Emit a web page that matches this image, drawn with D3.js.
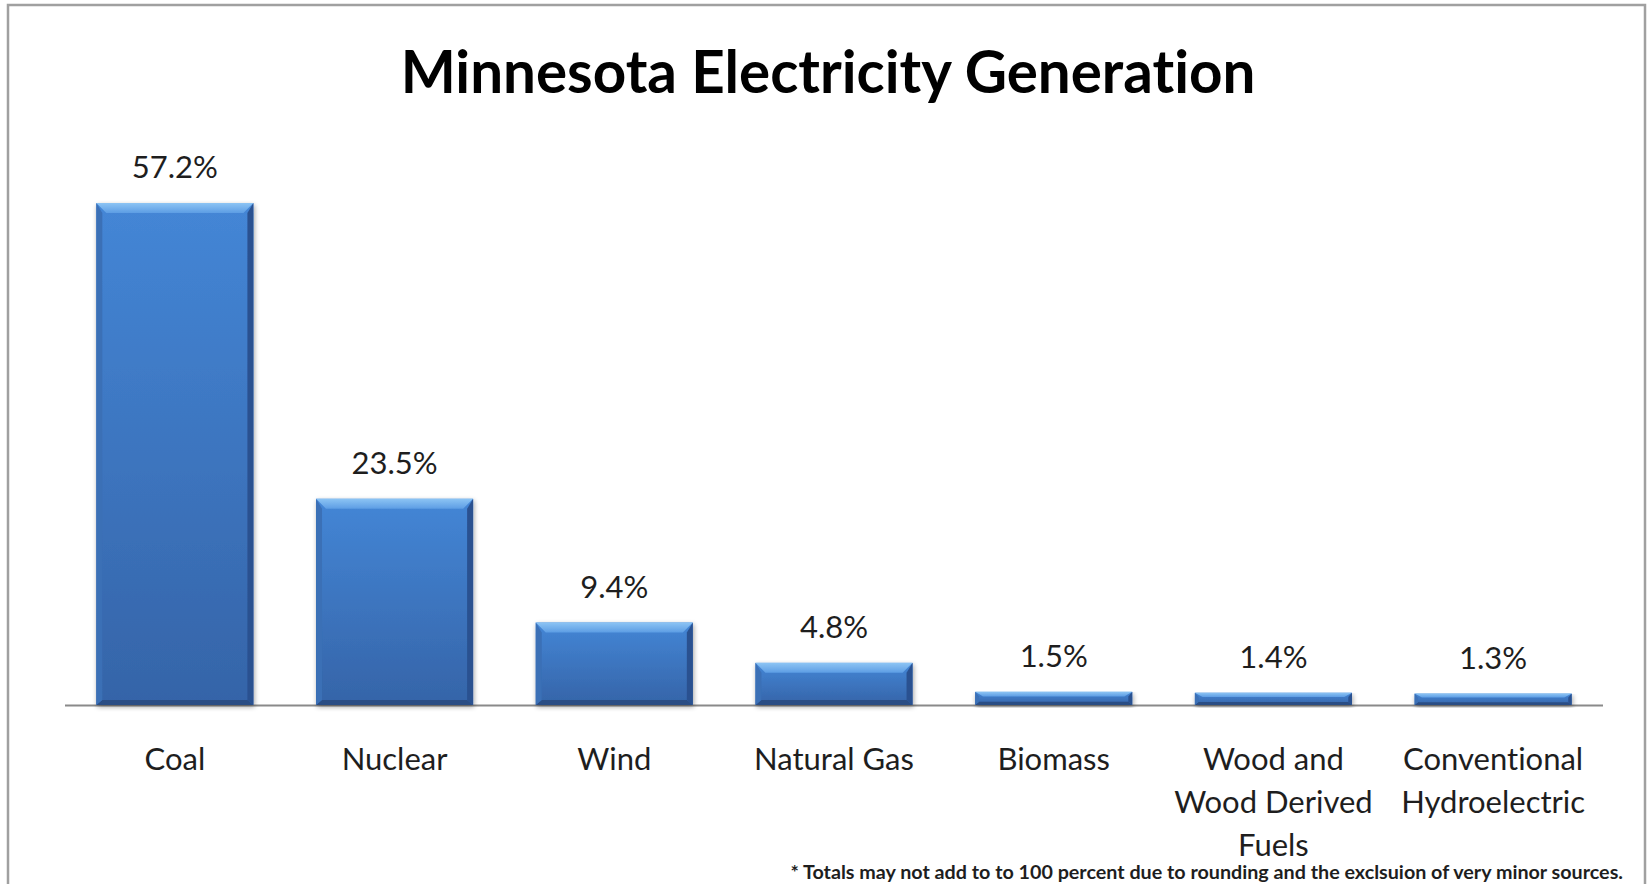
<!DOCTYPE html>
<html>
<head>
<meta charset="utf-8">
<script src="https://cdn.jsdelivr.net/npm/d3@7"></script>
<style>
  html, body { margin: 0; padding: 0; background: #ffffff; }
  svg { display: block; }
  text { font-family: Lato, "Open Sans", sans-serif; font-variant-ligatures: none; font-feature-settings: "liga" 0, "clig" 0; }
</style>
</head>
<body>
<svg id="chart" width="1651" height="884"></svg>
<script>
// ---- data ----
const categories = ["Coal", "Nuclear", "Wind", "Natural Gas", "Biomass", "Wood and\nWood Derived\nFuels", "Conventional\nHydroelectric"];
const values = [57.2, 23.5, 9.4, 4.8, 1.5, 1.4, 1.3];
const titleText = "Minnesota Electricity Generation";
const footnoteText = "* Totals may not add to to 100 percent due to rounding and the exclsuion of very minor sources.";

const W = 1651, H = 884;
const svg = d3.select("#chart");

// frame border
svg.append("path")
  .attr("d", `M8,${H+2} L8,5 L1645,5 L1645,${H+2}`)
  .attr("fill", "none").attr("stroke", "#a0a0a0").attr("stroke-width", 2.5);

// scales
const baseY = 705;
const x = d3.scaleBand().domain(d3.range(categories.length))
  .range([65, 1603]).paddingInner(0.285).paddingOuter(0.1425);
const y = d3.scaleLinear().domain([0, 57.2]).range([baseY, 203]);

const defs = svg.append("defs");
const body = defs.append("linearGradient").attr("id", "bodyGrad").attr("x1", 0).attr("y1", 0).attr("x2", 0).attr("y2", 1);
body.append("stop").attr("offset", "0%").attr("stop-color", "#4486d6");
body.append("stop").attr("offset", "100%").attr("stop-color", "#3564a8");
const topG = defs.append("linearGradient").attr("id", "topGrad").attr("x1", 0).attr("y1", 0).attr("x2", 0).attr("y2", 1);
topG.append("stop").attr("offset", "0%").attr("stop-color", "#8cc4f4");
topG.append("stop").attr("offset", "100%").attr("stop-color", "#5d9de4");
const sh = defs.append("filter").attr("id", "shadow").attr("x", "-10%").attr("y", "-10%").attr("width", "120%").attr("height", "130%");
sh.append("feGaussianBlur").attr("in", "SourceAlpha").attr("stdDeviation", 2.5).attr("result", "b");
sh.append("feOffset").attr("in", "b").attr("dx", 1).attr("dy", 2).attr("result", "o");
sh.append("feComponentTransfer").attr("in", "o").attr("result", "o2")
  .append("feFuncA").attr("type", "linear").attr("slope", 0.35);
const m = sh.append("feMerge");
m.append("feMergeNode").attr("in", "o2");
m.append("feMergeNode").attr("in", "SourceGraphic");

// axis line
svg.append("line")
  .attr("x1", x.range()[0]).attr("x2", x.range()[1])
  .attr("y1", baseY + 0.5).attr("y2", baseY + 0.5)
  .attr("stroke", "#8a8a8a").attr("stroke-width", 2);

// bars
const bars = svg.append("g").selectAll("g").data(values).join("g").attr("filter", "url(#shadow)");
bars.each(function(v, i) {
  const g = d3.select(this);
  const x0 = x(i), w = x.bandwidth(), y0 = y(v), h = baseY - y0;
  const tb = Math.min(10, h * 0.35), sb = Math.min(6, h * 0.3), bb = Math.min(5, h * 0.25);
  g.append("rect").attr("x", x0).attr("y", y0).attr("width", w).attr("height", h).attr("fill", "url(#bodyGrad)");
  const poly = (pts, fill, op) => g.append("polygon").attr("points", pts.map(p => p.join(",")).join(" ")).attr("fill", fill).attr("opacity", op || 1);
  poly([[x0, y0 + h], [x0 + w, y0 + h], [x0 + w - sb, y0 + h - bb], [x0 + sb, y0 + h - bb]], "#2a4d84");
  poly([[x0 + w, y0], [x0 + w, y0 + h], [x0 + w - sb, y0 + h - bb], [x0 + w - sb, y0 + tb]], "#2b5190");
  poly([[x0, y0], [x0 + sb, y0 + tb], [x0 + sb, y0 + h - bb], [x0, y0 + h]], "#3a6fb6");
  poly([[x0, y0], [x0 + w, y0], [x0 + w - sb - 4, y0 + tb], [x0 + sb + 4, y0 + tb]], "url(#topGrad)");
});

// value labels
svg.append("g").selectAll("text").data(values).join("text")
  .attr("x", (d, i) => x(i) + x.bandwidth() / 2)
  .attr("y", d => y(d) - 25)
  .attr("text-anchor", "middle")
  .attr("font-size", 31).attr("fill", "#1e1e1e")
  .text(d => d.toFixed(1) + "%");

// category labels
const cat = svg.append("g").selectAll("text").data(categories).join("text")
  .attr("x", (d, i) => x(i) + x.bandwidth() / 2)
  .attr("y", 770)
  .attr("text-anchor", "middle")
  .attr("font-size", 31).attr("fill", "#1e1e1e");
cat.each(function(d, i) {
  const t = d3.select(this);
  d.split("\n").forEach((line, k) => {
    t.append("tspan").attr("x", x(i) + x.bandwidth() / 2).attr("dy", k === 0 ? 0 : 43).text(line);
  });
});

// title, fitted to the reference width
const title = svg.append("text")
  .attr("x", 828).attr("y", 93).attr("text-anchor", "middle")
  .attr("font-weight", "bold").attr("font-size", 56).attr("fill", "#000")
  .text(titleText);
let tw = title.node().getComputedTextLength();
title.attr("font-size", 56 * 855 / tw);

// footnote
const foot = svg.append("text")
  .attr("x", 1623).attr("y", 879).attr("text-anchor", "end")
  .attr("font-weight", "bold").attr("font-size", 16).attr("fill", "#1e1e1e")
  .text(footnoteText);
let fw = foot.node().getComputedTextLength();
foot.attr("font-size", 16 * 833 / fw);
</script>
</body>
</html>
